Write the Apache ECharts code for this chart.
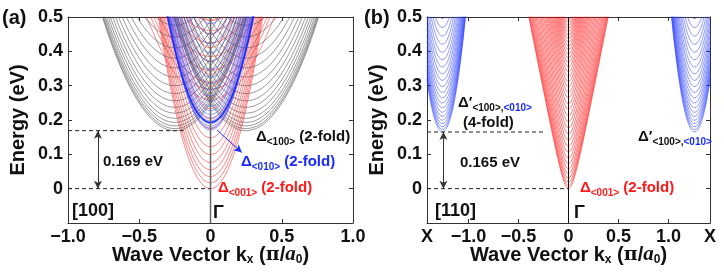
<!DOCTYPE html>
<html>
<head>
<meta charset="utf-8">
<script src="https://cdn.jsdelivr.net/npm/echarts@6/dist/echarts.min.js"></script>
<style>
  html, body { margin: 0; padding: 0; background: #fff; }
  #chart { width: 724px; height: 277px; }
</style>
</head>
<body>
<div id="chart"></div>
<script>
// ---------- values ----------
// shared energy axis (eV)
const eRange = [-0.1, 0.5];
const eStep = 0.1;

// (a) [100] wire
const kRangeA = [-1, 1];
const gapA = 0.169;
// Δ<100> subband minima, valleys at ±k0
const blk100Min = [0.169, 0.175, 0.183, 0.193, 0.205, 0.22, 0.237, 0.256, 0.277, 0.30, 0.325, 0.352, 0.38, 0.41, 0.442, 0.476];
const blk100K0 = [-0.25, 0.25];
const blk100Curv = 1.28;            // eV per (π/a0)^2
// Δ<010> subband minima at Γ
const blu010Min = [0.171, 0.176, 0.182, 0.189, 0.197, 0.206, 0.216, 0.227, 0.24, 0.254, 0.27, 0.287, 0.305, 0.325, 0.347, 0.37, 0.395, 0.422, 0.45, 0.48];
const blu010Curv = 3.67;
const blu010Outer = [0.193];        // the heavy outline branch
const blu010OuterCurv = 3.4;
// Δ<001> subband minima at Γ (light and heavy branches)
const red001Min = [0, 0.017, 0.035, 0.055, 0.076, 0.099, 0.122, 0.148, 0.175, 0.203, 0.233, 0.265, 0.298, 0.333, 0.37, 0.41, 0.45, 0.49];
const red001Curv = 3.75;
const red001HeavyMin = [0.26, 0.29, 0.31, 0.345, 0.385, 0.425, 0.46, 0.49];
const red001HeavyCurv = 1.2;

// (b) [110] wire
const kX = 1.414;
const gapB = 0.165;
const redBMin = [0, 0.008, 0.018, 0.03, 0.043, 0.057, 0.072, 0.088, 0.105, 0.122, 0.14, 0.158, 0.176, 0.194, 0.212, 0.23, 0.247, 0.264, 0.28, 0.296, 0.311, 0.326, 0.34, 0.354, 0.367, 0.38, 0.392, 0.404, 0.415, 0.426, 0.437, 0.447, 0.457, 0.466, 0.475, 0.484, 0.492];
const redBCurv = 11;
const redBAlpha = 4.9;             // non-parabolicity (1/eV)
const bluBMin = [0.165, 0.172, 0.18, 0.189, 0.199, 0.21, 0.222, 0.235, 0.249, 0.264, 0.28, 0.297, 0.315, 0.334, 0.354, 0.375, 0.397, 0.42, 0.444, 0.469, 0.495];
const bluBK0 = [-1.26, 1.26];
const bluBCurv = 6.3;

// ---------- helpers ----------
const FONT = 'Liberation Sans, Arial, sans-serif';
const step = 0.004;

function parab(c) { return dk => c * dk * dk; }
function kane(c, a) { return dk => (-1 + Math.sqrt(1 + 4 * a * c * dk * dk)) / (2 * a); }

// every subband of one family, joined in one series with gaps between them
function bands(mins, centers, disp, kMin, kMax) {
  const out = [];
  centers.forEach(k0 => {
    mins.forEach(e0 => {
      for (let k = kMin; k <= kMax + 1e-9; k += step) {
        const e = e0 + disp(k - k0);
        if (e <= 0.54) out.push([k, e]);
      }
      out.push(['-', '-']);
    });
  });
  return out;
}

function curveSeries(idx, data, color, width) {
  return {
    type: 'line', xAxisIndex: idx, yAxisIndex: idx, data: data,
    showSymbol: false, symbol: 'none', silent: true, animation: false,
    lineStyle: { color: color, width: width }, clip: true
  };
}

function dashSeries(idx, data) {
  return {
    type: 'line', xAxisIndex: idx, yAxisIndex: idx, data: data,
    showSymbol: false, symbol: 'none', silent: true, animation: false,
    lineStyle: { color: '#222', width: 1, type: [4, 3] }
  };
}

function arrowSeries(idx, k, e0, e1, color, heads) {
  return {
    type: 'line', xAxisIndex: idx, yAxisIndex: idx, data: [], silent: true, animation: false,
    markLine: {
      silent: true, animation: false, symbol: heads, symbolSize: [6, 8],
      label: { show: false },
      lineStyle: { color: color, width: 1, type: 'solid' },
      data: [[{ coord: [k[0], e0] }, { coord: [k[1], e1] }]]
    }
  };
}

const tickFmt = v => Math.abs(v) < 1e-9 ? '0' : (v < 0 ? '\u2212' : '') + Math.abs(v).toFixed(1);

const axisLineStyle = { show: true, onZero: false, lineStyle: { color: '#333', width: 1 } };
const tickStyle = { inside: true, length: 4, lineStyle: { color: '#333' } };

function yAxes(gi) {
  return [
    {
      type: 'value', gridIndex: gi, min: eRange[0], max: eRange[1], interval: eStep, position: 'left',
      axisLine: axisLineStyle, axisTick: tickStyle, splitLine: { show: false },
      axisLabel: { fontFamily: FONT, fontWeight: 'bold', fontSize: 18, color: '#111', margin: 5,
        formatter: v => v < -0.05 ? '' : tickFmt(v) },
      name: 'Energy (eV)', nameLocation: 'middle', nameGap: 40, nameMoveOverlap: false,
      nameTextStyle: { fontFamily: FONT, fontWeight: 'bold', fontSize: 20, color: '#111' }
    },
    {
      type: 'value', gridIndex: gi, min: eRange[0], max: eRange[1], interval: eStep, position: 'right',
      axisLine: axisLineStyle, axisTick: tickStyle, splitLine: { show: false }, axisLabel: { show: false }
    }
  ];
}

const xName = 'Wave Vector k{sub|x} ({pi|\u03c0}/{it|a}{sub|0})';
const xNameStyle = {
  fontFamily: FONT, fontWeight: 'bold', fontSize: 20, color: '#111', lineHeight: 22, verticalAlign: 'top',
  rich: {
    sub: { fontFamily: FONT, fontWeight: 'bold', fontSize: 12, color: '#111', lineHeight: 10, verticalAlign: 'bottom' },
    pi: { fontFamily: 'DejaVu Serif', fontWeight: 'bold', fontSize: 19, color: '#111', lineHeight: 22 },
    it: { fontFamily: 'Liberation Serif', fontStyle: 'italic', fontWeight: 'bold', fontSize: 21, color: '#111', lineHeight: 22 }
  }
};

const xLabelStyle = { fontFamily: FONT, fontWeight: 'bold', fontSize: 18, color: '#111', margin: 5 };

const bTickVals = [-1, -0.5, 0, 0.5, 1];
const bLabelVals = [-kX, -1, -0.5, 0, 0.5, 1, kX];

const option = {
  backgroundColor: '#fff',
  animation: false,
  grid: [
    { left: 68, top: 17, width: 285, height: 206 },
    { left: 427, top: 17, width: 283, height: 206 }
  ],
  xAxis: [
    {
      type: 'value', gridIndex: 0, min: kRangeA[0], max: kRangeA[1], interval: 0.5, position: 'bottom',
      axisLine: axisLineStyle, axisTick: tickStyle, splitLine: { show: false },
      axisLabel: Object.assign({ formatter: tickFmt }, xLabelStyle),
      name: xName, nameLocation: 'middle', nameGap: 21, nameMoveOverlap: false, nameTextStyle: xNameStyle
    },
    {
      type: 'value', gridIndex: 1, min: -kX, max: kX, position: 'bottom',
      axisLine: axisLineStyle,
      axisTick: Object.assign({ customValues: bTickVals }, tickStyle),
      splitLine: { show: false },
      axisLabel: Object.assign({ customValues: bLabelVals, showMinLabel: true, showMaxLabel: true,
        formatter: v => Math.abs(Math.abs(v) - kX) < 1e-6 ? 'X' : tickFmt(v) }, xLabelStyle),
      name: xName, nameLocation: 'middle', nameGap: 21, nameMoveOverlap: false, nameTextStyle: xNameStyle
    },
    {
      type: 'value', gridIndex: 0, min: kRangeA[0], max: kRangeA[1], interval: 0.5, position: 'top',
      axisLine: axisLineStyle, axisTick: tickStyle, splitLine: { show: false }, axisLabel: { show: false }
    },
    {
      type: 'value', gridIndex: 1, min: -kX, max: kX, position: 'top',
      axisLine: axisLineStyle, axisTick: Object.assign({ customValues: bTickVals }, tickStyle),
      splitLine: { show: false }, axisLabel: { show: false }
    }
  ],
  yAxis: yAxes(0).slice(0, 1).concat(yAxes(1).slice(0, 1), yAxes(0).slice(1), yAxes(1).slice(1)),
  series: [
    // (a)
    curveSeries(0, bands(red001Min, [0], parab(red001Curv), kRangeA[0], kRangeA[1]), 'rgba(255,20,20,0.85)', 0.6),
    curveSeries(0, bands(red001HeavyMin, [0], parab(red001HeavyCurv), kRangeA[0], kRangeA[1]), 'rgba(255,30,30,0.85)', 0.6),
    curveSeries(0, bands(blk100Min, blk100K0, parab(blk100Curv), kRangeA[0], kRangeA[1]), '#555', 0.6),
    curveSeries(0, bands(blu010Min, [0], parab(blu010Curv), kRangeA[0], kRangeA[1]), 'rgba(40,60,255,0.85)', 0.6),
    curveSeries(0, bands(blu010Outer, [0], parab(blu010OuterCurv), kRangeA[0], kRangeA[1]), '#1a2cff', 1.6),
    curveSeries(0, [[0, eRange[0]], [0, eRange[1]]], '#666', 1.5),
    dashSeries(0, [[kRangeA[0], 0], [0, 0]]),
    dashSeries(0, [[kRangeA[0], gapA], [-0.19, gapA]]),
    arrowSeries(0, [-0.79, -0.79], 0, gapA, '#333', ['arrow', 'arrow']),
    arrowSeries(0, [0.045, 0.22], 0.171, 0.105, '#1a2cff', ['none', 'arrow']),
    // (b)
    curveSeries(1, bands(redBMin, [0], kane(redBCurv, redBAlpha), -kX, kX), 'rgba(255,10,10,0.9)', 0.6),
    curveSeries(1, bands(bluBMin, bluBK0, parab(bluBCurv), -kX, kX), 'rgba(40,60,255,0.85)', 0.6),
    curveSeries(1, [[0, eRange[0]], [0, eRange[1]]], '#111', 1),
    dashSeries(1, [[-kX, 0], [0, 0]]),
    dashSeries(1, [[-kX, gapB], [-0.25, gapB]]),
    arrowSeries(1, [-1.25, -1.25], 0, gapB, '#333', ['arrow', 'arrow'])
  ]
};

// ---------- annotation text ----------
function tok(color, size, sub) {
  return sub
    ? { fontFamily: FONT, fontWeight: 'bold', fontSize: size, fill: color, color: color, lineHeight: 10, verticalAlign: 'bottom' }
    : { fontFamily: FONT, fontWeight: 'bold', fontSize: size, fill: color, color: color, lineHeight: 20, verticalAlign: 'middle' };
}
const rich = {
  kb: tok('#111', 15), ks: tok('#111', 10, true),
  bb: tok('#1a2cff', 15), bs: tok('#1a2cff', 10, true),
  rb: tok('#ff1a1a', 15), rs: tok('#ff1a1a', 10, true),
  big: tok('#111', 18), huge: tok('#111', 20)
};
function txt(x, y, text) {
  return { type: 'text', x: x, y: y, silent: true, z: 100,
    style: { text: text, rich: rich, align: 'left', verticalAlign: 'middle',
      font: 'bold 15px ' + FONT, fill: '#111' } };
}
option.graphic = [
  txt(2, 18, '{huge|(a)}'),
  txt(364, 18, '{huge|(b)}'),
  txt(256, 137, '{kb|\u0394}{ks|<100>}{kb| (2-fold)}'),
  txt(241, 162, '{bb|\u0394}{bs|<010>}{bb| (2-fold)}'),
  txt(218, 188, '{rb|\u0394}{rs|<001>}{rb| (2-fold)}'),
  txt(103, 162, '{kb|0.169 eV}'),
  txt(72, 211, '{big|[100]}'),
  txt(213, 213, '{big|\u0393}'),
  txt(458, 103, '{kb|\u0394\u2032}{ks|<100>,}{bs|<010>}'),
  txt(463, 123, '{kb|(4-fold)}'),
  txt(460, 163, '{kb|0.165 eV}'),
  txt(638, 137, '{kb|\u0394\u2032}{ks|<100>,}{bs|<010>}'),
  txt(580, 188, '{rb|\u0394}{rs|<001>}{rb| (2-fold)}'),
  txt(435, 211, '{big|[110]}'),
  txt(574, 213, '{big|\u0393}')
];

const chart = echarts.init(document.getElementById('chart'));
chart.setOption(option);
</script>
</body>
</html>
